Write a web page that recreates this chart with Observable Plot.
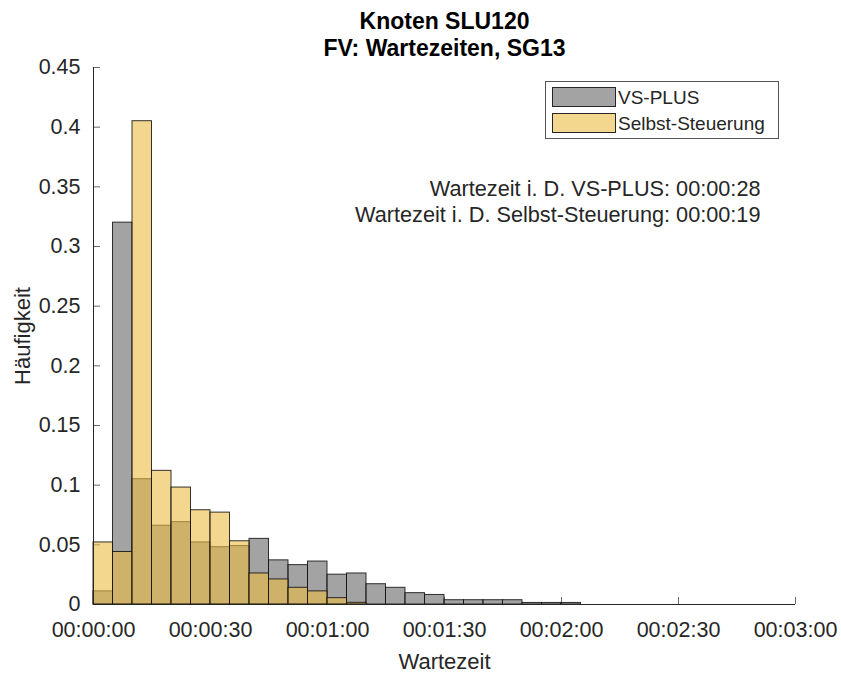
<!DOCTYPE html>
<html>
<head>
<meta charset="utf-8">
<script src="https://cdn.jsdelivr.net/npm/d3@7"></script>
<script src="https://cdn.jsdelivr.net/npm/@observablehq/plot@0.6"></script>
<style>
  body { margin: 0; background: #fff; }
  #wrap { position: relative; width: 841px; height: 673px; font-family: "Liberation Sans", Arial, Helvetica, sans-serif; }
  #wrap svg { position: absolute; left: 0; top: 0; }
  .legend { position: absolute; left: 545px; top: 81px; width: 232px; height: 56px; border: 1px solid #555; background: #fff; }
  .legend .sw { position: absolute; left: 6px; width: 62px; height: 18px; border: 1px solid #262626; }
  .legend .lb { position: absolute; left: 72px; font-size: 19px; color: #262626; line-height: 20px; white-space: nowrap; }
</style>
</head>
<body>
<div id="wrap"></div>
<script>
// ---- data ----
const binWidth = 5; // seconds
const binStarts = [0, 5, 10, 15, 20, 25, 30, 35, 40, 45, 50, 55, 60, 65, 70, 75, 80, 85, 90, 95, 100, 105, 110, 115, 120];
const vsPlus = [0.011, 0.320, 0.105, 0.066, 0.069, 0.052, 0.048, 0.049, 0.055, 0.037, 0.033, 0.036, 0.025, 0.026, 0.017, 0.014, 0.0095, 0.008, 0.0036, 0.0036, 0.0036, 0.0036, 0.0013, 0.0013, 0.0013];
const selbst = [0.052, 0.044, 0.405, 0.112, 0.098, 0.079, 0.077, 0.053, 0.026, 0.021, 0.014, 0.011, 0.0053, 0.0014, 0, 0, 0, 0, 0, 0, 0, 0, 0, 0, 0];
const seriesNames = ["VS-PLUS", "Selbst-Steuerung"];
const meanLabels = ["Wartezeit i. D. VS-PLUS: 00:00:28", "Wartezeit i. D. Selbst-Steuerung: 00:00:19"];
const titleLines = ["Knoten SLU120", "FV: Wartezeiten, SG13"];
const xTicks = [0, 30, 60, 90, 120, 150, 180];
const xTickLabels = ["00:00:00", "00:00:30", "00:01:00", "00:01:30", "00:02:00", "00:02:30", "00:03:00"];
const yTicks = [0, 0.05, 0.1, 0.15, 0.2, 0.25, 0.3, 0.35, 0.4, 0.45];
const yTickLabels = ["0", "0.05", "0.1", "0.15", "0.2", "0.25", "0.3", "0.35", "0.4", "0.45"];
const xLabel = "Wartezeit";
const yLabel = "Häufigkeit";

// ---- styles ----
const colors = ["#666666", "#EDBD45"];
const faceAlpha = 0.6;
const axisColor = "#262626";

const rows = [];
binStarts.forEach((s, i) => {
  if (vsPlus[i] > 0) rows.push({series: seriesNames[0], start: s, value: vsPlus[i]});
});
binStarts.forEach((s, i) => {
  if (selbst[i] > 0) rows.push({series: seriesNames[1], start: s, value: selbst[i]});
});

const W = 841, H = 673;
const mL = 93, mR = 46, mT = 67, mB = 69;
const frameW = W - mL - mR, frameH = H - mT - mB;
const tickLen = 7;

const xLab = new Map(xTicks.map((t, i) => [t, xTickLabels[i]]));
const yLab = new Map(yTicks.map((t, i) => [t, yTickLabels[i]]));

const chart = Plot.plot({
  width: W, height: H,
  marginLeft: mL, marginRight: mR, marginTop: mT, marginBottom: mB,
  style: {fontFamily: "'Liberation Sans', Arial, Helvetica, sans-serif", fontSize: "21px", color: axisColor, background: "transparent"},
  x: {domain: [0, 180], axis: null},
  y: {domain: [0, 0.45], axis: null},
  marks: [
    // inward ticks
    Plot.tickX(xTicks, {x: d => d, insetTop: frameH - tickLen, stroke: axisColor, strokeOpacity: 0.7}),
    Plot.tickY(yTicks, {y: d => d, insetRight: frameW - tickLen, stroke: axisColor, strokeOpacity: 0.7}),
    // bars
    Plot.rect(rows.filter(d => d.series === seriesNames[0]), {
      x1: "start", x2: d => d.start + binWidth, y1: () => 0, y2: "value",
      fill: colors[0], fillOpacity: faceAlpha, stroke: "#111", strokeWidth: 1, strokeOpacity: 0.85
    }),
    Plot.rect(rows.filter(d => d.series === seriesNames[1]), {
      x1: "start", x2: d => d.start + binWidth, y1: () => 0, y2: "value",
      fill: colors[1], fillOpacity: faceAlpha, stroke: "#111", strokeWidth: 1, strokeOpacity: 0.85
    }),
    // axis lines
    Plot.ruleX([0], {stroke: axisColor}),
    Plot.ruleY([0], {stroke: axisColor}),
    // tick labels
    Plot.axisX({ticks: xTicks, tickSize: 0, tickPadding: 17, tickFormat: d => xLab.get(d), fontSize: 21.5, fill: axisColor, label: null}),
    Plot.axisY({ticks: yTicks, tickSize: 0, tickPadding: 13, tickFormat: d => yLab.get(d), fontSize: 21.5, fill: axisColor, label: null}),
    // axis labels
    Plot.text([xLabel], {frameAnchor: "bottom", textAnchor: "middle", lineAnchor: "middle", dy: 57, fontSize: 22, fill: axisColor}),
    Plot.text([yLabel], {frameAnchor: "left", textAnchor: "middle", lineAnchor: "middle", dx: -71, rotate: -90, fontSize: 22, fill: axisColor}),
    // title
    Plot.text([titleLines[0]], {frameAnchor: "top", textAnchor: "middle", lineAnchor: "middle", dy: -46, fontSize: 23, fontWeight: "bold", fill: "#000"}),
    Plot.text([titleLines[1]], {frameAnchor: "top", textAnchor: "middle", lineAnchor: "middle", dy: -19, fontSize: 23, fontWeight: "bold", fill: "#000"}),
    // mean annotations
    Plot.text([meanLabels[0]], {frameAnchor: "top-right", textAnchor: "end", lineAnchor: "middle", dx: -35, dy: 122, fontSize: 21.7, fill: axisColor}),
    Plot.text([meanLabels[1]], {frameAnchor: "top-right", textAnchor: "end", lineAnchor: "middle", dx: -35, dy: 148, fontSize: 21.7, fill: axisColor})
  ]
});

const wrap = document.getElementById("wrap");
wrap.appendChild(chart);

// legend
const lg = document.createElement("div");
lg.className = "legend";
seriesNames.forEach((name, i) => {
  const c = d3.rgb(colors[i]);
  const sw = document.createElement("div");
  sw.className = "sw";
  sw.style.top = (5 + i * 26) + "px";
  sw.style.background = `rgba(${c.r},${c.g},${c.b},${faceAlpha})`;
  lg.appendChild(sw);
  const lb = document.createElement("div");
  lb.className = "lb";
  lb.style.top = (6 + i * 26) + "px";
  lb.textContent = name;
  lg.appendChild(lb);
});
wrap.appendChild(lg);
</script>
</body>
</html>
